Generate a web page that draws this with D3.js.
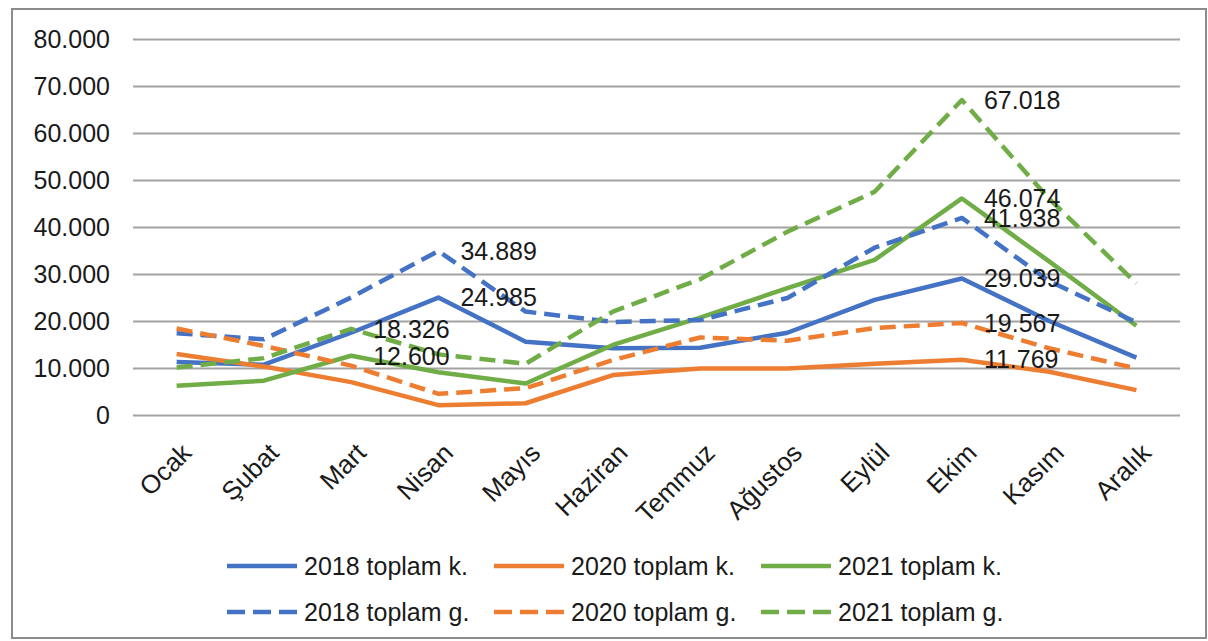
<!DOCTYPE html>
<html>
<head>
<meta charset="utf-8">
<script src="https://cdn.jsdelivr.net/npm/d3@7"></script>
<style>
  html, body { margin: 0; padding: 0; background: #ffffff; }
  svg { display: block; }
  text { font-family: "Liberation Sans", Arial, sans-serif; fill: #1a1a1a; }
</style>
</head>
<body>
<svg id="chart" width="1208" height="641"></svg>
<script>
// ---- data ----
const months = ["Ocak","Şubat","Mart","Nisan","Mayıs","Haziran","Temmuz","Ağustos","Eylül","Ekim","Kasım","Aralık"];
const yTicks = [0, 10000, 20000, 30000, 40000, 50000, 60000, 70000, 80000];

const k2018 = [11300, 10700, 17500, 24985, 15600, 14200, 14300, 17500, 24500, 29039, 20000, 12200];
const k2020 = [13000, 10300, 7000, 2100, 2500, 8500, 9900, 9900, 10900, 11769, 9200, 5300];
const k2021 = [6200, 7300, 12600, 9100, 6700, 14900, 20700, 27000, 33000, 46074, 32700, 19000];
const g2018 = [17400, 16100, 25000, 34889, 22000, 19800, 20200, 24900, 35600, 41938, 28500, 19700];
const g2020 = [18400, 14700, 10500, 4500, 5700, 11700, 16500, 15800, 18500, 19567, 14200, 9900];
const g2021 = [10100, 12100, 18326, 12900, 10900, 22000, 28900, 39000, 47500, 67018, 46000, 28000];

const seriesNames = ["2018 toplam k.", "2020 toplam k.", "2021 toplam k.", "2018 toplam g.", "2020 toplam g.", "2021 toplam g."];
const seriesValues = [k2018, k2020, k2021, g2018, g2020, g2021];
const seriesColors = ["#4472C4", "#ED7D31", "#70AD47", "#4472C4", "#ED7D31", "#70AD47"];
const seriesDashed = [false, false, false, true, true, true];
// month indices that carry a data label, per series
const seriesLabelAt = [[3, 9], [9], [2, 9], [3, 9], [9], [2, 9]];

// ---- layout ----
const svg = d3.select("#chart");
const plot = { left: 133, right: 1180, top: 39, bottom: 415 };

const x = d3.scaleBand().domain(months).range([plot.left, plot.right]);
const y = d3.scaleLinear().domain([0, 80000]).range([plot.bottom, plot.top]);
const cx = m => x(m) + x.bandwidth() / 2;

const fmt = d3.formatLocale({ decimal: ",", thousands: ".", grouping: [3], currency: ["", ""] }).format(",d");

// outer frame
svg.append("rect")
  .attr("x", 12).attr("y", 9).attr("width", 1194).attr("height", 629)
  .attr("fill", "#ffffff").attr("stroke", "#8c8c8c").attr("stroke-width", 2);

// gridlines + y axis labels
const yAxis = d3.axisLeft(y).tickValues(yTicks).tickFormat(fmt)
  .tickSize(-(plot.right - plot.left)).tickPadding(23);
const gy = svg.append("g").attr("transform", `translate(${plot.left},0)`).call(yAxis);
gy.select(".domain").remove();
gy.selectAll(".tick line").attr("stroke", "#a3a3a3").attr("stroke-width", 2);
gy.selectAll(".tick text")
  .attr("font-size", 25).attr("fill", "#1a1a1a")
  .style("font-family", '"Liberation Sans", Arial, sans-serif');

// x axis labels (rotated)
const xAxis = d3.axisBottom(x).tickSize(0).tickPadding(0);
const gx = svg.append("g").attr("transform", `translate(0,${plot.bottom})`).call(xAxis);
gx.select(".domain").remove();
gx.selectAll(".tick text")
  .attr("font-size", 26).attr("fill", "#1a1a1a")
  .style("font-family", '"Liberation Sans", Arial, sans-serif')
  .attr("text-anchor", "end")
  .attr("dy", "0.35em")
  .attr("y", 0)
  .attr("transform", "translate(10,33) rotate(-45)");

// lines
const line = d3.line().x((d, i) => cx(months[i])).y(d => y(d));
const gl = svg.append("g");
seriesValues.forEach((vals, s) => {
  gl.append("path")
    .datum(vals)
    .attr("d", line)
    .attr("fill", "none")
    .attr("stroke", seriesColors[s])
    .attr("stroke-width", 4.5)
    .attr("stroke-linejoin", "round")
    .attr("stroke-dasharray", seriesDashed[s] ? "16,8" : null);
});

// data labels
const glab = svg.append("g");
seriesValues.forEach((vals, s) => {
  seriesLabelAt[s].forEach(i => {
    glab.append("text")
      .attr("x", cx(months[i]) + 22)
      .attr("y", y(vals[i]))
      .attr("dy", "0.35em")
      .attr("font-size", 25)
      .text(fmt(vals[i]));
  });
});

// legend
const legendX = [227, 494, 761];
const legendY = [566, 612];
const gleg = svg.append("g");
seriesNames.forEach((name, s) => {
  const lx = legendX[s % 3];
  const ly = legendY[Math.floor(s / 3)];
  gleg.append("line")
    .attr("x1", lx).attr("x2", lx + 70)
    .attr("y1", ly).attr("y2", ly)
    .attr("stroke", seriesColors[s])
    .attr("stroke-width", 4.5)
    .attr("stroke-dasharray", seriesDashed[s] ? "18,8" : null);
  gleg.append("text")
    .attr("x", lx + 77).attr("y", ly)
    .attr("dy", "0.35em")
    .attr("font-size", 25)
    .text(name);
});
</script>
</body>
</html>
